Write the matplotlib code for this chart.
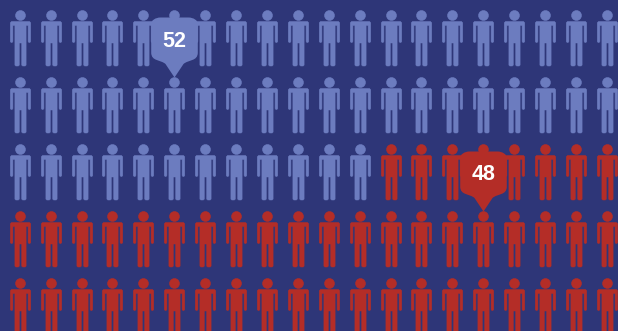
import matplotlib
matplotlib.use("Agg")
import matplotlib.pyplot as plt
from matplotlib.path import Path

# share of each group, one figure per person
labels = ["52", "48"]
counts = [52, 48]
body_colors = ["#6c7cbf", "#b42d27"]
callout_cols = [5, 15]
callout_rows = [1, 3]

n_cols = 20
n_rows = 5

bg = "#2e3678"
col_px = 30.9   # grid spacing in pixels
row_px = 66.8
x0_px = 19.7
y0_px = 15.3


def person_marker():
    # outline in pixels, origin at the centre of the head, y pointing up
    head = Path.circle((0, 0), 5.0)
    # right half from the neck down, mirrored for the left
    half = [
        (9.0, -6.0), (10.2, -7.3), (10.2, -26.0), (9.4, -27.0), (8.4, -27.0), (7.6, -26.0),
        (7.6, -10.0), (5.6, -10.0), (5.6, -49.6), (4.7, -50.5), (2.1, -50.5), (1.2, -49.6),
        (1.2, -27.5),
    ]
    body = half + [(-x, y) for x, y in reversed(half)] + [half[0]]
    return Path.make_compound_path(head, Path(body, closed=True))


def callout_marker():
    # rounded shield, origin on the head the tip points at
    verts = [
        (0, -5), (-9, -18.5),
        (-14, -23), (-23.3, -21), (-23.3, -30),
        (-23.3, -59),
        (-23.3, -62), (-19, -65), (-14, -65),
        (14, -65),
        (19, -65), (23.3, -62), (23.3, -59),
        (23.3, -30),
        (23.3, -21), (14, -23), (9, -18.5),
        (0, -5), (0, -5),
    ]
    # y pointing up on screen
    verts = [(x, -y) for x, y in verts]
    codes = [Path.MOVETO, Path.LINETO,
             Path.CURVE4, Path.CURVE4, Path.CURVE4,
             Path.LINETO,
             Path.CURVE4, Path.CURVE4, Path.CURVE4,
             Path.LINETO,
             Path.CURVE4, Path.CURVE4, Path.CURVE4,
             Path.LINETO,
             Path.CURVE4, Path.CURVE4, Path.CURVE4,
             Path.LINETO, Path.CLOSEPOLY]
    return Path(verts, codes)


def marker_size(path):
    # scatter rescales custom markers by their largest coordinate
    m = abs(path.vertices).max()
    return (2 * m * 0.72) ** 2


fig = plt.figure(figsize=(6.18, 3.31), dpi=100, facecolor=bg)
ax = fig.add_axes([0, 0, 1, 1])
ax.set_facecolor(bg)
ax.set_xlim(-x0_px / col_px, (618 - x0_px) / col_px)
ax.set_ylim((331 - y0_px) / row_px, -y0_px / row_px)
ax.axis("off")

# fill the grid row by row, first group then second
cells = [(c, r) for r in range(n_rows) for c in range(n_cols)]
person = person_marker()
start = 0
for count, color in zip(counts, body_colors):
    group = cells[start:start + count]
    start += count
    ax.scatter([g[0] for g in group], [g[1] for g in group], marker=person,
               s=marker_size(person), color=color, linewidths=0.35,
               edgecolors=color, zorder=2)

shield = callout_marker()
for label, color, c, r in zip(labels, body_colors, callout_cols, callout_rows):
    ax.scatter([c], [r], marker=shield, s=marker_size(shield), color=color,
               linewidths=0, zorder=3)
    ax.annotate(label, (c, r), xytext=(0, 41 * 0.72), textcoords="offset points",
                ha="center", va="center", color="white", fontsize=15.5,
                fontweight="bold", family="Liberation Sans", zorder=4)

fig.savefig("out.png", dpi=100, facecolor=bg)
